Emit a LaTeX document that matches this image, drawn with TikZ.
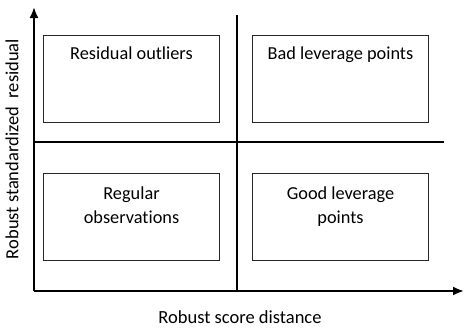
\documentclass[tikz,border=0pt]{standalone}
\usepackage{fontspec}
\setmainfont[Ligatures={NoCommon}]{Carlito}
\usetikzlibrary{arrows.meta}

\begin{document}
\begin{tikzpicture}[x=1pt,y=-1pt,
  quadbox/.style={draw=black!85, line width=1pt, minimum width=176pt, minimum height=87pt, inner sep=0pt},
  quadtext/.style={anchor=north, align=center, font=\fontsize{18.3}{24.5}\selectfont},
  axislabel/.style={font=\fontsize{18.5}{20}\selectfont}]
\useasboundingbox (0,0) rectangle (466,327);
% axes
\coordinate (origin) at (34,291);
\coordinate (ytop) at (34,7);
\coordinate (xend) at (464,291);
\draw[line width=2pt,-{Latex[length=11pt,width=9pt]}] (origin) -- (ytop);
\draw[line width=2pt,-{Latex[length=11pt,width=9pt]}] (origin) -- (xend);
% dividers
\coordinate (vtop) at (237,15);
\coordinate (vbot) at (237,291);
\coordinate (hleft) at (34,142);
\coordinate (hright) at (444,142);
\draw[line width=2pt] (vtop) -- (vbot);
\draw[line width=2pt] (hleft) -- (hright);
% quadrants
\node[quadbox] (outl) at (131.5,78.5) {};
\node[quadbox] (bad) at (340.5,78.5) {};
\node[quadbox] (reg) at (131.5,217) {};
\node[quadbox] (good) at (340.5,217) {};
\node[quadtext] (outltxt) at ([yshift=-9pt]outl.north) {Residual outliers};
\node[quadtext] (badtxt) at ([yshift=-9pt]bad.north) {Bad leverage points};
\node[quadtext] (regtxt) at ([yshift=-10pt]reg.north) {Regular\\observations};
\node[quadtext] (goodtxt) at ([yshift=-10pt]good.north) {Good leverage\\points};
% axis labels
\node[axislabel] (xlab) at (240,317) {Robust score distance};
\node[axislabel, rotate=90] (ylab) at (12,149) {Robust standardized\ \ residual};
\end{tikzpicture}
\end{document}
